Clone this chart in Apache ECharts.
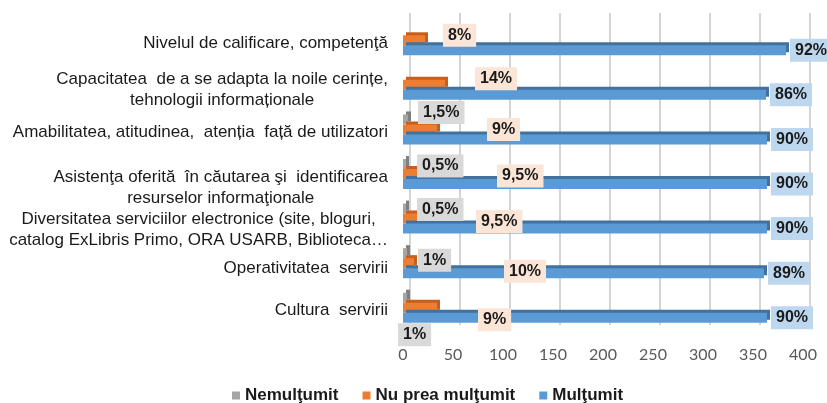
<!DOCTYPE html>
<html>
<head>
<meta charset="utf-8">
<script src="https://cdn.jsdelivr.net/npm/echarts@6/dist/echarts.min.js"></script>
<style>
html, body { margin: 0; padding: 0; background: #fff; }
#chart { width: 827px; height: 403px; }
</style>
</head>
<body>
<div id="chart"></div>
<script>
const categories = [
  'Nivelul de calificare, competenţă',
  'Capacitatea  de a se adapta la noile cerințe,\ntehnologii informaționale',
  'Amabilitatea, atitudinea,  atenția  față de utilizatori',
  'Asistenţa oferită  în căutarea şi  identificarea\nresurselor informaţionale',
  'Diversitatea serviciilor electronice (site, bloguri,\ncatalog ExLibris Primo, ORA USARB, Biblioteca…',
  'Operativitatea  servirii',
  'Cultura  servirii'
]
const seriesNames = ['Nemulţumit', 'Nu prea mulţumit', 'Mulţumit']
const nemultumit = [0, 0, 5, 3, 3, 4, 4]
const nuPreaMultumit = [22, 42, 34, 36, 36, 11, 34]
const multumit = [383, 363, 364, 364, 364, 361, 364]
const nemultumitPct = ['', '', '1,5%', '0,5%', '0,5%', '1%', '1%']
const nuPreaPct = ['8%', '14%', '9%', '9,5%', '9,5%', '10%', '9%']
const multumitPct = ['92%', '86%', '90%', '90%', '90%', '89%', '90%']
const xMin = 0
const xMax = 400
const xStep = 50

// labels were dragged around by hand in the original, so shift them per bar
const grayShift = [[0, 0], [0, 0], [15, -7], [14, 2], [14, 1], [15, 7], [-5, 37]]
const orangeShift = [[40, -5], [72, -6], [84, 0], [94, 2], [73, 3], [101, 8], [75, 12]]
// extra top padding of the category texts (two-line ones sit lower)
const catPadTop = [6, 9, 6, 27, 23, 10, 6]

const font = '"Liberation Sans", Arial, sans-serif'

function boxLabel (bg, texts, shifts) {
  return {
    show: true,
    position: shifts ? 'insideLeft' : 'right',
    distance: shifts ? 0 : 4,
    backgroundColor: bg,
    padding: [4, 5, 3, 5],
    color: '#1a1a1a',
    fontFamily: font,
    fontWeight: 'bold',
    fontSize: 16,
    formatter: p => texts[p.dataIndex]
  }
}

function withShifts (values, texts, shifts) {
  return values.map((v, i) => ({
    value: v,
    label: texts[i] ? { offset: shifts[i] } : { show: false }
  }))
}

const chart = echarts.init(document.getElementById('chart'))
const option = {
  animation: false,
  backgroundColor: '#fff',
  legend: {
    data: seriesNames,
    left: 227,
    top: 382,
    icon: 'rect',
    itemWidth: 8,
    itemHeight: 8,
    itemGap: 24,
    textStyle: { fontFamily: font, fontWeight: 'bold', fontSize: 17, color: '#1a1a1a' }
  },
  grid: [
    { left: 403, top: 18, width: 400, height: 312 },
    { left: 410, top: 13, width: 400, height: 312 }
  ],
  xAxis: [
    {
      type: 'value',
      gridIndex: 0,
      min: xMin,
      max: xMax,
      interval: xStep,
      splitLine: { show: false },
      axisLine: { show: false },
      axisTick: { show: false },
      axisLabel: { margin: 17, fontFamily: 'Lato, sans-serif', fontSize: 16, color: '#595959' }
    },
    {
      type: 'value',
      gridIndex: 1,
      min: xMin,
      max: xMax,
      interval: xStep,
      axisLine: { show: false },
      axisTick: { show: false },
      axisLabel: { show: false },
      splitLine: { show: true, lineStyle: { color: '#d4d4d4', width: 2 } }
    }
  ],
  yAxis: [
    {
      type: 'category',
      gridIndex: 0,
      inverse: true,
      data: categories.map((c, i) => ({ value: c, textStyle: { padding: [catPadTop[i], 0, 0, 0] } })),
      axisLine: { show: false },
      axisTick: { show: false },
      axisLabel: {
        margin: 15,
        formatter: v => v.split('\n').map(l => '{c|' + l + '}').join('\n'),
        rich: {
          c: { align: 'center', fontFamily: font, fontSize: 17, lineHeight: 21, color: '#1a1a1a' }
        }
      }
    },
    { type: 'value', gridIndex: 1, show: false, splitLine: { show: false } }
  ],
  series: [
    {
      name: seriesNames[0],
      type: 'bar',
      barWidth: 10,
      barGap: '0%',
      itemStyle: { color: '#a5a5a5', shadowColor: '#7f7f7f', shadowOffsetX: 3, shadowOffsetY: -3, shadowBlur: 0 },
      label: boxLabel('#d9d9d9', nemultumitPct, true),
      data: withShifts(nemultumit, nemultumitPct, grayShift)
    },
    {
      name: seriesNames[1],
      type: 'bar',
      barWidth: 10,
      barGap: '0%',
      itemStyle: { color: '#ed7d31', shadowColor: '#c65f1c', shadowOffsetX: 3, shadowOffsetY: -3, shadowBlur: 0 },
      label: boxLabel('#fbe5d6', nuPreaPct, true),
      data: withShifts(nuPreaMultumit, nuPreaPct, orangeShift)
    },
    {
      name: seriesNames[2],
      type: 'bar',
      barWidth: 10,
      barGap: '0%',
      itemStyle: { color: '#5b9bd5', shadowColor: '#41719c', shadowOffsetX: 3, shadowOffsetY: -3, shadowBlur: 0 },
      label: boxLabel('#bdd7ee', multumitPct, false),
      data: multumit
    }
  ]
}
chart.setOption(option)
</script>
</body>
</html>
